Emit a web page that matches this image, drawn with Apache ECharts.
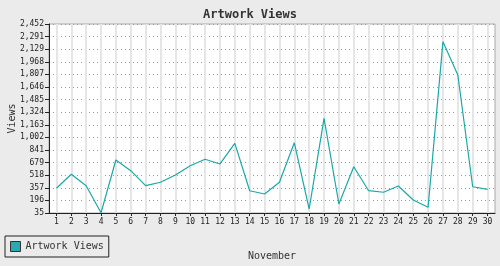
<!DOCTYPE html>
<html><head><meta charset="utf-8">
<script src="https://cdn.jsdelivr.net/npm/echarts@6/dist/echarts.min.js"></script>
<style>html,body{margin:0;padding:0;background:#ebebeb}#c{width:500px;height:266px}</style>
</head><body><div id="c"></div>
<script>
const days = ['1','2','3','4','5','6','7','8','9','10','11','12','13','14','15','16','17','18','19','20','21','22','23','24','25','26','27','28','29','30'];
const views = [351,530,384,38,713,576,385,428,521,640,722,662,926,320,278,428,934,86,1246,150,627,320,300,380,201,108,2226,1800,371,338];
const yTickLabels = ['35','196','357','518','679','841','1,002','1,163','1,324','1,485','1,646','1,807','1,968','2,129','2,291','2,452'];
const yMin = 35, yMax = 2452;
const step = (yMax - yMin) / (yTickLabels.length - 1);
const FONT = '"DejaVu Sans Mono", "Liberation Mono", monospace';
const chart = echarts.init(document.getElementById('c'), null, {renderer:'canvas'});
chart.setOption({
  animation: false,
  backgroundColor: '#ebebeb',
  title: {text: 'Artwork Views', left: 'center', top: 4,
    textStyle: {fontFamily: FONT, fontSize: 12, fontWeight: 'bold', color: '#333'}},
  legend: {data: ['Artwork Views'], left: 5, top: 236, orient: 'horizontal',
    padding: [5, 5, 5, 5], itemWidth: 10, itemHeight: 10, itemGap: 4,
    borderColor: '#222', borderWidth: 1, icon: 'rect',
    itemStyle: {borderColor: '#333', borderWidth: 1},
    textStyle: {fontFamily: FONT, fontSize: 10, color: '#333', padding: [0,0,0,0]}},
  grid: {left: 49, right: 5, top: 24, bottom: 53, containLabel: false, outerBoundsMode: 'none',
    show: true, backgroundColor: '#fff', borderColor: '#aaa', borderWidth: 1},
  xAxis: {type: 'category', data: days, boundaryGap: true,
    name: 'November', nameLocation: 'middle', nameGap: 38, nameMoveOverlap: false,
    nameTextStyle: {fontFamily: FONT, fontSize: 10, color: '#333'},
    axisLine: {lineStyle: {color: '#222', width: 1}},
    axisTick: {show: true, alignWithLabel: true, length: 3, lineStyle: {color: '#222'}},
    axisLabel: {fontFamily: FONT, fontSize: 8, color: '#222', margin: 5, interval: 0},
    splitLine: {show: true, alignWithLabel: true, lineStyle: {color: '#e6e6e6', width: 2}}},
  yAxis: {type: 'value', min: 0, max: yTickLabels.length - 1, interval: 1,
    name: 'Views', nameLocation: 'middle', nameGap: 32, nameRotate: 90, nameMoveOverlap: false,
    nameTextStyle: {fontFamily: FONT, fontSize: 10, color: '#333'},
    axisLine: {show: true, lineStyle: {color: '#222', width: 1}},
    axisTick: {show: true, length: 4, lineStyle: {color: '#222'}},
    axisLabel: {fontFamily: FONT, fontSize: 8, color: '#222', margin: 5,
      formatter: v => yTickLabels[Math.round(v)] || ''},
    splitLine: {show: true, lineStyle: {color: '#999', type: [1, 3], width: 1}}},
  series: [{name: 'Artwork Views', type: 'line', data: views.map(v => (v - yMin) / step),
    symbol: 'none', lineStyle: {color: '#1aa8a8', width: 1.2},
    itemStyle: {color: '#2aaab0'}}]
});
</script></body></html>
